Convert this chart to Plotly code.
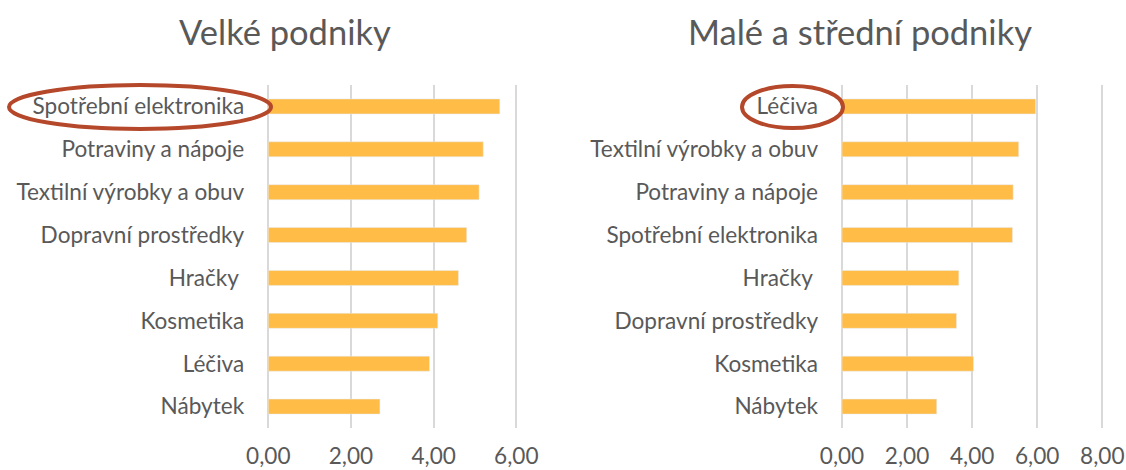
import plotly.graph_objects as go

W, H = 1126, 470

# Data
cats_large = ["Spotřební elektronika", "Potraviny a nápoje", "Textilní výrobky a obuv",
              "Dopravní prostředky", "Hračky\u00a0", "Kosmetika", "Léčiva", "Nábytek"]
vals_large = [5.6, 5.2, 5.1, 4.8, 4.6, 4.1, 3.9, 2.7]

cats_sme = ["Léčiva", "Textilní výrobky a obuv", "Potraviny a nápoje", "Spotřební elektronika",
            "Hračky\u00a0", "Dopravní prostředky", "Kosmetika", "Nábytek"]
vals_sme = [5.95, 5.43, 5.26, 5.24, 3.59, 3.52, 4.04, 2.91]

title_large = "Velké podniky"
title_sme = "Malé a střední podniky"
xticks_large = [0, 2, 4, 6]
xticks_sme = [0, 2, 4, 6, 8]

FONT = "Lato"
GREY = "#595959"
BAR = "#FFBC47"
GRID = "#D9D9D9"
RED = "#B5482A"
TICK_SIZE = 22.6
TITLE_SIZE = 34.5

def px_x(p):
    return p / W

def px_y(p):
    return 1 - p / H

fig = go.Figure()
fig.add_trace(go.Bar(x=vals_large, y=cats_large, orientation="h", marker_color=BAR,
                     xaxis="x", yaxis="y", showlegend=False))
fig.add_trace(go.Bar(x=vals_sme, y=cats_sme, orientation="h", marker_color=BAR,
                     xaxis="x2", yaxis="y2", showlegend=False))

# pixel mapping of axes
L0, L6 = 268.3, 516.3
lppu = (L6 - L0) / 6
lpad = 0.05
R0, R8 = 842.0, 1102.3
rppu = (R8 - R0) / 8
rpad = 0.06

ydom = [px_y(428), px_y(85)]
common_x = dict(showgrid=True, gridcolor=GRID, gridwidth=2, zeroline=False,
                showline=False, tickformat=".2f", ticks="", automargin=False,
                tickfont=dict(family=FONT, size=TICK_SIZE, color=GREY),
                ticklabelstandoff=12)
common_y = dict(showgrid=False, zeroline=False, showline=False, ticks="",
                automargin=False, tickfont=dict(family=FONT, size=TICK_SIZE, color=GREY),
                ticklabelstandoff=21)

fig.update_layout(
    width=W, height=H,
    margin=dict(l=0, r=0, t=0, b=0),
    paper_bgcolor="white", plot_bgcolor="white",
    separators=",.",
    bargap=0.65,
    xaxis=dict(domain=[px_x(L0 - lpad * lppu), px_x(L6 + lpad * lppu)], range=[-lpad, 6 + lpad],
               tickvals=xticks_large, anchor="y", **common_x),
    yaxis=dict(domain=ydom, autorange="reversed", categoryorder="array",
               categoryarray=cats_large, anchor="x", **common_y),
    xaxis2=dict(domain=[px_x(R0 - rpad * rppu), px_x(R8 + rpad * rppu)], range=[-rpad, 8 + rpad],
                tickvals=xticks_sme, anchor="y2", **common_x),
    yaxis2=dict(domain=ydom, autorange="reversed", categoryorder="array",
                categoryarray=cats_sme, anchor="x2", **common_y),
    annotations=[
        dict(text=title_large, x=px_x(285), y=px_y(31), xref="paper", yref="paper",
             showarrow=False, xanchor="center", yanchor="middle",
             font=dict(family=FONT, size=TITLE_SIZE, color=GREY)),
        dict(text=title_sme, x=px_x(860), y=px_y(31), xref="paper", yref="paper",
             showarrow=False, xanchor="center", yanchor="middle",
             font=dict(family=FONT, size=TITLE_SIZE, color=GREY)),
    ],
    shapes=[
        dict(type="circle", xref="paper", yref="paper",
             x0=px_x(9), x1=px_x(271), y0=px_y(129), y1=px_y(85),
             line=dict(color=RED, width=4)),
        dict(type="circle", xref="paper", yref="paper",
             x0=px_x(742), x1=px_x(843), y0=px_y(128), y1=px_y(86),
             line=dict(color=RED, width=4)),
    ],
)

fig.write_html("out.html",
               config={"displayModeBar": False},
               post_script="document.body.style.margin='0';document.body.style.overflow='hidden';")
